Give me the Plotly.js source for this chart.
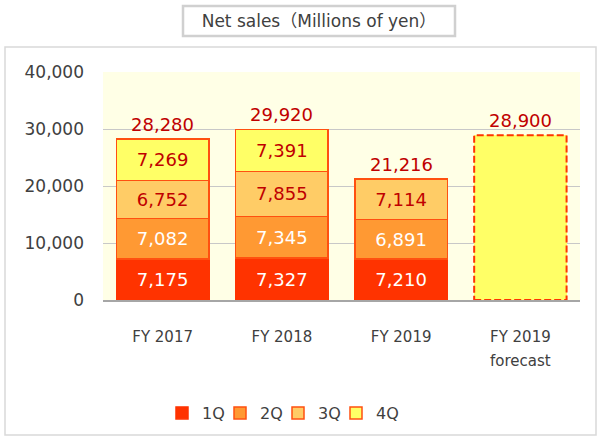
<!DOCTYPE html>
<html><head><meta charset="utf-8">
<script src="https://cdn.plot.ly/plotly-3.0.1.min.js"></script>
<style>html,body{margin:0;padding:0;background:#fff}#chart{width:597px;height:436px}</style>
</head><body><div id="chart"></div>
<script>
// ---- data ----
var categories = ["FY 2017", "FY 2018", "FY 2019"];
var tickLabels = ["FY 2017", "FY 2018", "FY 2019", "FY 2019"];
var tickSubLabels = ["", "", "", "forecast"];
var q1 = [7175, 7327, 7210];
var q2 = [7082, 7345, 6891];
var q3 = [6752, 7855, 7114];
var q4 = [7269, 7391, null];
var totals = [28280, 29920, 21216];
var forecastLabel = "FY 2019 forecast";
var forecastValue = 28900;
var seriesNames = ["1Q", "2Q", "3Q", "4Q"];

// ---- layout geometry ----
var W = 597, H = 436, L = 103, R = 17, T = 72, B = 136;
var PW = W - L - R, PH = H - T - B;
function px(x){ return (x - L) / PW; }
function py(y){ return (T + PH - y) / PH; }

var FONT = "DejaVu Sans, Verdana, Noto Sans CJK JP, sans-serif";
var fills = ["#FF3300", "#FF9933", "#FFCC66", "#FFFF66"];
var txtCol = ["#FFFFFF", "#FFFFFF", "#C00000", "#C00000"];
var edge = "#FF5010";
var barW = 0.775;

var xIdx = categories.map(function(_, i){ return i; });
var series = [q1, q2, q3, q4];
var traces = series.map(function(vals, k){
  return {
    type: "bar", name: seriesNames[k], x: xIdx, y: vals, width: barW,
    marker: {color: fills[k], line: {color: k === 0 ? fills[0] : edge, width: 1.5}},
    text: vals.map(function(v){ return v == null ? "" : v.toLocaleString("en-US"); }),
    texttemplate: "%{text}", textposition: "inside", insidetextanchor: "middle",
    textangle: 0, constraintext: "none",
    insidetextfont: {family: FONT, size: 18, color: txtCol[k]},
    hoverinfo: "skip"
  };
});
var fIdx = categories.length;
traces.push({
  type: "bar", name: forecastLabel, x: [fIdx], y: [forecastValue], width: barW,
  marker: {color: fills[3], line: {width: 0}}, showlegend: false, hoverinfo: "skip"
});
// empty spacer entry so the last legend label is not clipped
traces.push({type: "scatter", mode: "lines", x: [null], y: [null], name: " ",
  line: {width: 0, color: "rgba(0,0,0,0)"}, showlegend: true, hoverinfo: "skip"});

var annotations = totals.map(function(v, i){
  return {x: i, y: v, xref: "x", yref: "y", text: v.toLocaleString("en-US"),
    showarrow: false, yanchor: "bottom", yshift: 2,
    font: {family: FONT, size: 18, color: "#C00000"}};
});
annotations.push({x: fIdx, y: forecastValue, xref: "x", yref: "y",
  text: forecastValue.toLocaleString("en-US"), showarrow: false, yanchor: "bottom", yshift: 2,
  font: {family: FONT, size: 18, color: "#C00000"}});
tickSubLabels.forEach(function(s, i){
  if (!s) return;
  annotations.push({x: i, y: py(361), xref: "x", yref: "paper", text: s, showarrow: false,
    yanchor: "middle", font: {family: FONT, size: 15, color: "#404040"}});
});

var shapes = [
  {type: "rect", xref: "paper", yref: "paper", x0: px(5), x1: px(596), y0: py(47), y1: py(435),
   line: {color: "#D9D9D9", width: 1.5}, fillcolor: "rgba(0,0,0,0)", layer: "below"},
  {type: "rect", xref: "paper", yref: "paper", x0: px(183), x1: px(455), y0: py(6), y1: py(36),
   line: {color: "#D0D0D0", width: 2.5}, fillcolor: "#FFFFFF", layer: "above"},
  {type: "rect", xref: "x", yref: "y", x0: fIdx - barW / 2, x1: fIdx + barW / 2, y0: 0, y1: forecastValue,
   line: {color: "#FF3300", width: 2, dash: "7px,3px"}, fillcolor: "rgba(0,0,0,0)", layer: "above"}
];

var layout = {
  width: W, height: H,
  margin: {l: L, r: R, t: T, b: B, pad: 0, autoexpand: false},
  paper_bgcolor: "#FFFFFF", plot_bgcolor: "#FFFFE6",
  barmode: "stack",
  font: {family: FONT, color: "#595959"},
  title: {text: "Net sales（Millions of yen）", x: 319 / W, xref: "container", xanchor: "center",
    y: 1 - 21 / H, yref: "container", yanchor: "middle",
    font: {family: FONT, size: 17, color: "#404040"}},
  xaxis: {
    type: "linear", range: [-0.5, fIdx + 0.5],
    tickmode: "array", tickvals: tickLabels.map(function(_, i){ return i; }), ticktext: tickLabels,
    tickfont: {family: FONT, size: 15, color: "#404040"},
    showgrid: false, zeroline: false, showline: true, linecolor: "#A6A6A6", linewidth: 1.5,
    ticks: "", ticklabelstandoff: 22, fixedrange: true
  },
  yaxis: {
    range: [0, 40000], dtick: 10000, tickformat: ",d",
    tickfont: {family: FONT, size: 17, color: "#404040"},
    gridcolor: "#C8C8C8", gridwidth: 1, zeroline: false, showline: false,
    ticks: "", ticklabelstandoff: 18, fixedrange: true
  },
  legend: {orientation: "h", x: px(162), xanchor: "left", y: py(413), yanchor: "middle",
    entrywidth: 13, entrywidthmode: "pixels",
    font: {family: FONT, size: 16, color: "#404040"}, traceorder: "normal", bgcolor: "rgba(0,0,0,0)"},
  showlegend: true,
  annotations: annotations, shapes: shapes
};

Plotly.newPlot("chart", traces, layout, {staticPlot: true, displayModeBar: false});
</script></body></html>
